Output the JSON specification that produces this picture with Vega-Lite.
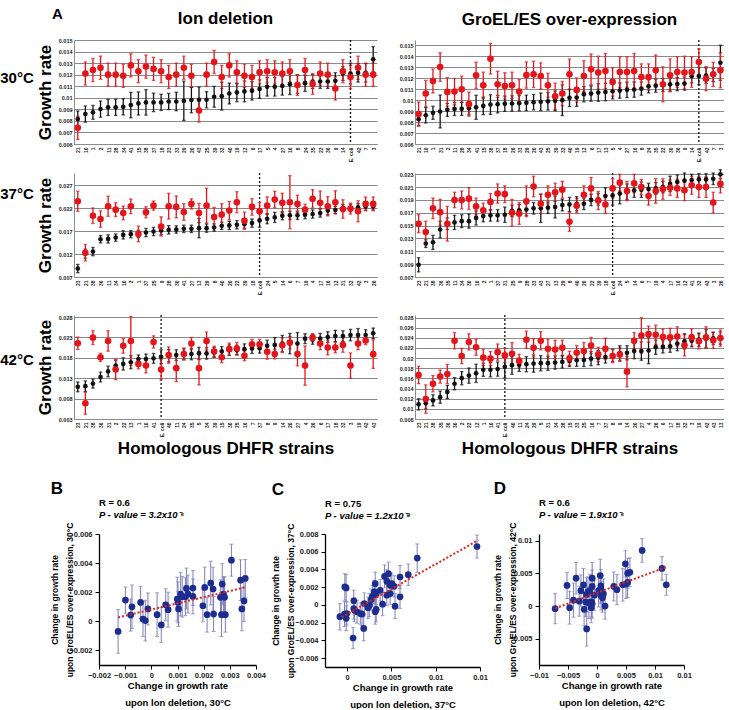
{
"$schema":"https://vega.github.io/schema/vega-lite/v6.json",
"padding":{"left":0,"top":7,"right":0,"bottom":0},
"title":{"text":"A","anchor":"start","frame":"bounds","fontSize":15,"offset":0,"dx":52,"dy":12},
"config":{
 "font":"Liberation Sans",
 "view":{"stroke":null},
 "title":{"fontWeight":"bold","color":"#000"},
 "axis":{"labelOverlap":false},
 "axisY":{"grid":true,"gridColor":"#8a8a8a","gridWidth":1.2,"ticks":false,"domainColor":"#8a8a8a","labelFontSize":5.5,"labelFontWeight":"bold","labelPadding":2,"format":"~g","titleFontSize":17,"titleFontWeight":"bold","titlePadding":4,"labelColor":"#222","titleColor":"#000","labelOverlap":false},
 "axisX":{"labelAngle":-90,"labelFontSize":5,"labelFontWeight":"bold","ticks":false,"labelPadding":3,"domainColor":"#8a8a8a","labelOverlap":false,"labelColor":"#222","titleFontSize":17,"titleFontWeight":"bold","titlePadding":4,"grid":false,"titleColor":"#000"}
},
"datasets":{
"p1":[
{"s":"21","k":"b","v":0.00816,"e":0.0007},{"s":"10","k":"b","v":0.00859,"e":0.0007},{"s":"1","k":"b","v":0.00874,"e":0.0006},{"s":"2","k":"b","v":0.00902,"e":0.0007},{"s":"11","k":"b","v":0.00917,"e":0.0007},{"s":"28","k":"b","v":0.00917,"e":0.0007},{"s":"34","k":"b","v":0.00922,"e":0.0007},{"s":"41","k":"b","v":0.00937,"e":0.0011},{"s":"15","k":"b","v":0.00951,"e":0.001},{"s":"38","k":"b","v":0.0096,"e":0.0011},{"s":"37","k":"b","v":0.0096,"e":0.0008},{"s":"18","k":"b","v":0.0096,"e":0.0007},{"s":"23","k":"b","v":0.00968,"e":0.0007},{"s":"33","k":"b","v":0.00968,"e":0.0008},{"s":"29","k":"b","v":0.00974,"e":0.0017},{"s":"20","k":"b","v":0.0098,"e":0.0011},{"s":"43","k":"b","v":0.00983,"e":0.0011},{"s":"25","k":"b","v":0.00983,"e":0.0007},{"s":"39","k":"b","v":0.01009,"e":0.0009},{"s":"32","k":"b","v":0.01014,"e":0.0012},{"s":"40","k":"b","v":0.01037,"e":0.0009},{"s":"19","k":"b","v":0.01046,"e":0.0008},{"s":"12","k":"b","v":0.01055,"e":0.0009},{"s":"6","k":"b","v":0.0106,"e":0.0008},{"s":"17","k":"b","v":0.01075,"e":0.0008},{"s":"5","k":"b","v":0.01095,"e":0.0008},{"s":"4","k":"b","v":0.01095,"e":0.0008},{"s":"27","k":"b","v":0.01103,"e":0.0008},{"s":"16","k":"b","v":0.01118,"e":0.0009},{"s":"8","k":"b","v":0.01118,"e":0.0008},{"s":"24","k":"b","v":0.01126,"e":0.0007},{"s":"35","k":"b","v":0.01141,"e":0.0006},{"s":"22","k":"b","v":0.01141,"e":0.0006},{"s":"36","k":"b","v":0.01141,"e":0.0006},{"s":"9","k":"b","v":0.01147,"e":0.0007},{"s":"14","k":"b","v":0.0121,"e":0.0006},{"s":"E. coli","k":"b","v":0.0121,"e":0.0009},{"s":"42","k":"b","v":0.01216,"e":0.0008},{"s":"7","k":"b","v":0.01216,"e":0.0008},{"s":"3","k":"b","v":0.01333,"e":0.0011},
{"s":"21","k":"r","v":0.0074,"e":0.001},{"s":"10","k":"r","v":0.0121,"e":0.001},{"s":"1","k":"r","v":0.0124,"e":0.001},{"s":"2","k":"r","v":0.0126,"e":0.001},{"s":"11","k":"r","v":0.012,"e":0.001},{"s":"28","k":"r","v":0.012,"e":0.001},{"s":"34","k":"r","v":0.0119,"e":0.001},{"s":"41","k":"r","v":0.0128,"e":0.001},{"s":"15","k":"r","v":0.0123,"e":0.001},{"s":"38","k":"r","v":0.0127,"e":0.001},{"s":"37","k":"r","v":0.0125,"e":0.001},{"s":"18","k":"r","v":0.0123,"e":0.001},{"s":"23","k":"r","v":0.0118,"e":0.001},{"s":"33","k":"r","v":0.012,"e":0.001},{"s":"29","k":"r","v":0.0126,"e":0.001},{"s":"20","k":"r","v":0.0119,"e":0.001},{"s":"43","k":"r","v":0.0089,"e":0.001},{"s":"25","k":"r","v":0.012,"e":0.001},{"s":"39","k":"r","v":0.0131,"e":0.001},{"s":"32","k":"r","v":0.0118,"e":0.001},{"s":"40","k":"r","v":0.0128,"e":0.001},{"s":"19","k":"r","v":0.0122,"e":0.001},{"s":"12","k":"r","v":0.0119,"e":0.001},{"s":"6","k":"r","v":0.0118,"e":0.001},{"s":"17","k":"r","v":0.0122,"e":0.001},{"s":"5","k":"r","v":0.0123,"e":0.001},{"s":"4","k":"r","v":0.0122,"e":0.001},{"s":"27","k":"r","v":0.0121,"e":0.001},{"s":"16","k":"r","v":0.0123,"e":0.001},{"s":"8","k":"r","v":0.0111,"e":0.0009},{"s":"24","k":"r","v":0.0124,"e":0.001},{"s":"35","k":"r","v":0.0112,"e":0.0009},{"s":"22","k":"r","v":0.0121,"e":0.001},{"s":"36","k":"r","v":0.012,"e":0.001},{"s":"9","k":"r","v":0.0108,"e":0.001},{"s":"14","k":"r","v":0.0123,"e":0.001},{"s":"E. coli","k":"r","v":0.0118,"e":0.001},{"s":"42","k":"r","v":0.0126,"e":0.001},{"s":"7","k":"r","v":0.012,"e":0.001},{"s":"3","k":"r","v":0.012,"e":0.001}
],
"p2":[
{"s":"21","k":"b","v":0.00827,"e":0.0006},{"s":"10","k":"b","v":0.00862,"e":0.0007},{"s":"1","k":"b","v":0.00885,"e":0.0006},{"s":"31","k":"b","v":0.00897,"e":0.0015},{"s":"2","k":"b","v":0.00912,"e":0.0006},{"s":"11","k":"b","v":0.0092,"e":0.0006},{"s":"28","k":"b","v":0.00921,"e":0.0006},{"s":"34","k":"b","v":0.00927,"e":0.0006},{"s":"41","k":"b","v":0.00935,"e":0.0011},{"s":"15","k":"b","v":0.00948,"e":0.0008},{"s":"38","k":"b","v":0.0096,"e":0.0009},{"s":"37","k":"b","v":0.00964,"e":0.0008},{"s":"18","k":"b","v":0.00968,"e":0.0007},{"s":"26","k":"b","v":0.0097,"e":0.0007},{"s":"33","k":"b","v":0.00973,"e":0.0007},{"s":"29","k":"b","v":0.00976,"e":0.0007},{"s":"20","k":"b","v":0.00982,"e":0.0007},{"s":"43","k":"b","v":0.00986,"e":0.0008},{"s":"25","k":"b","v":0.0099,"e":0.0008},{"s":"39","k":"b","v":0.00994,"e":0.0009},{"s":"32","k":"b","v":0.01,"e":0.0014},{"s":"40","k":"b","v":0.01022,"e":0.0008},{"s":"19","k":"b","v":0.01024,"e":0.0008},{"s":"12","k":"b","v":0.01055,"e":0.0007},{"s":"6","k":"b","v":0.01061,"e":0.0007},{"s":"17","k":"b","v":0.0107,"e":0.0008},{"s":"13","k":"b","v":0.01075,"e":0.0008},{"s":"5","k":"b","v":0.01082,"e":0.0007},{"s":"4","k":"b","v":0.01088,"e":0.0007},{"s":"27","k":"b","v":0.01095,"e":0.0007},{"s":"16","k":"b","v":0.01097,"e":0.0007},{"s":"8","k":"b","v":0.01106,"e":0.0006},{"s":"24","k":"b","v":0.01127,"e":0.0006},{"s":"35","k":"b","v":0.01133,"e":0.0006},{"s":"22","k":"b","v":0.01139,"e":0.0006},{"s":"30","k":"b","v":0.01145,"e":0.0006},{"s":"36","k":"b","v":0.01147,"e":0.0006},{"s":"9","k":"b","v":0.01152,"e":0.0006},{"s":"14","k":"b","v":0.01218,"e":0.0006},{"s":"E. coli","k":"b","v":0.01221,"e":0.0008},{"s":"42","k":"b","v":0.01225,"e":0.0007},{"s":"7","k":"b","v":0.0123,"e":0.0006},{"s":"3","k":"b","v":0.01342,"e":0.0016},
{"s":"21","k":"r","v":0.00873,"e":0.0011},{"s":"10","k":"r","v":0.01061,"e":0.0012},{"s":"1","k":"r","v":0.01176,"e":0.0011},{"s":"31","k":"r","v":0.01303,"e":0.0013},{"s":"2","k":"r","v":0.01076,"e":0.0013},{"s":"11","k":"r","v":0.01079,"e":0.0012},{"s":"28","k":"r","v":0.011,"e":0.0012},{"s":"34","k":"r","v":0.00964,"e":0.0011},{"s":"41","k":"r","v":0.01227,"e":0.0012},{"s":"15","k":"r","v":0.01136,"e":0.0012},{"s":"38","k":"r","v":0.01379,"e":0.0014},{"s":"37","k":"r","v":0.01145,"e":0.0012},{"s":"18","k":"r","v":0.0113,"e":0.0012},{"s":"26","k":"r","v":0.01136,"e":0.0012},{"s":"33","k":"r","v":0.01079,"e":0.0011},{"s":"29","k":"r","v":0.0123,"e":0.0012},{"s":"20","k":"r","v":0.01236,"e":0.0012},{"s":"43","k":"r","v":0.01221,"e":0.0012},{"s":"25","k":"r","v":0.01136,"e":0.0011},{"s":"39","k":"r","v":0.01036,"e":0.0012},{"s":"32","k":"r","v":0.01061,"e":0.0011},{"s":"40","k":"r","v":0.01236,"e":0.0014},{"s":"19","k":"r","v":0.01094,"e":0.0011},{"s":"12","k":"r","v":0.01221,"e":0.0014},{"s":"6","k":"r","v":0.01282,"e":0.0014},{"s":"17","k":"r","v":0.01252,"e":0.0015},{"s":"13","k":"r","v":0.01267,"e":0.0016},{"s":"5","k":"r","v":0.01167,"e":0.0013},{"s":"4","k":"r","v":0.01258,"e":0.0014},{"s":"27","k":"r","v":0.01258,"e":0.0014},{"s":"16","k":"r","v":0.01267,"e":0.0016},{"s":"8","k":"r","v":0.01212,"e":0.0012},{"s":"24","k":"r","v":0.01212,"e":0.0012},{"s":"35","k":"r","v":0.01273,"e":0.0014},{"s":"22","k":"r","v":0.01145,"e":0.0016},{"s":"30","k":"r","v":0.01227,"e":0.0015},{"s":"36","k":"r","v":0.01258,"e":0.0014},{"s":"9","k":"r","v":0.01252,"e":0.0015},{"s":"14","k":"r","v":0.01258,"e":0.0014},{"s":"E. coli","k":"r","v":0.01348,"e":0.0012},{"s":"42","k":"r","v":0.01197,"e":0.0011},{"s":"7","k":"r","v":0.01236,"e":0.0011},{"s":"3","k":"r","v":0.01273,"e":0.0016}
],
"p3":[
{"s":"23","k":"b","v":0.00884,"e":0.0009},{"s":"21","k":"b","v":0.0121,"e":0.001},{"s":"38","k":"b","v":0.01255,"e":0.0009},{"s":"36","k":"b","v":0.01524,"e":0.0008},{"s":"11","k":"b","v":0.01531,"e":0.0009},{"s":"34","k":"b","v":0.0156,"e":0.0008},{"s":"10","k":"b","v":0.01619,"e":0.0009},{"s":"2","k":"b","v":0.01634,"e":0.0008},{"s":"1","k":"b","v":0.0164,"e":0.0008},{"s":"37","k":"b","v":0.01671,"e":0.0009},{"s":"25","k":"b","v":0.01693,"e":0.0009},{"s":"9","k":"b","v":0.01715,"e":0.0009},{"s":"28","k":"b","v":0.0173,"e":0.0009},{"s":"30","k":"b","v":0.01737,"e":0.0008},{"s":"41","k":"b","v":0.01751,"e":0.0008},{"s":"27","k":"b","v":0.01751,"e":0.0008},{"s":"13","k":"b","v":0.01766,"e":0.0021},{"s":"29","k":"b","v":0.01766,"e":0.0009},{"s":"8","k":"b","v":0.0178,"e":0.0008},{"s":"40","k":"b","v":0.01818,"e":0.0008},{"s":"20","k":"b","v":0.01825,"e":0.0009},{"s":"22","k":"b","v":0.0184,"e":0.0009},{"s":"39","k":"b","v":0.01854,"e":0.0009},{"s":"18","k":"b","v":0.01876,"e":0.0009},{"s":"E. coli","k":"b","v":0.01935,"e":0.0015},{"s":"24","k":"b","v":0.01972,"e":0.0011},{"s":"5","k":"b","v":0.02001,"e":0.0011},{"s":"14","k":"b","v":0.02038,"e":0.0009},{"s":"6","k":"b","v":0.02046,"e":0.0009},{"s":"7","k":"b","v":0.02046,"e":0.0009},{"s":"19","k":"b","v":0.0206,"e":0.0009},{"s":"4","k":"b","v":0.02075,"e":0.0009},{"s":"17","k":"b","v":0.02097,"e":0.0009},{"s":"16","k":"b","v":0.02149,"e":0.0009},{"s":"12","k":"b","v":0.02163,"e":0.0008},{"s":"31","k":"b","v":0.02207,"e":0.0008},{"s":"32","k":"b","v":0.02207,"e":0.0008},{"s":"42","k":"b","v":0.02222,"e":0.0008},{"s":"3","k":"b","v":0.02237,"e":0.0008},{"s":"26","k":"b","v":0.0224,"e":0.0008},
{"s":"23","k":"r","v":0.02354,"e":0.0022},{"s":"21","k":"r","v":0.01229,"e":0.0018},{"s":"38","k":"r","v":0.02038,"e":0.0017},{"s":"36","k":"r","v":0.01965,"e":0.0018},{"s":"11","k":"r","v":0.02244,"e":0.0022},{"s":"34","k":"r","v":0.0217,"e":0.0015},{"s":"10","k":"r","v":0.02097,"e":0.0015},{"s":"2","k":"r","v":0.02244,"e":0.0016},{"s":"1","k":"r","v":0.01641,"e":0.0017},{"s":"37","k":"r","v":0.02112,"e":0.0012},{"s":"25","k":"r","v":0.02259,"e":0.001},{"s":"9","k":"r","v":0.01803,"e":0.0021},{"s":"28","k":"r","v":0.02244,"e":0.0028},{"s":"30","k":"r","v":0.0223,"e":0.0024},{"s":"41","k":"r","v":0.02119,"e":0.0018},{"s":"27","k":"r","v":0.02296,"e":0.0011},{"s":"13","k":"r","v":0.02097,"e":0.0021},{"s":"29","k":"r","v":0.02259,"e":0.0038},{"s":"8","k":"r","v":0.02009,"e":0.0021},{"s":"40","k":"r","v":0.0206,"e":0.0024},{"s":"20","k":"r","v":0.02149,"e":0.002},{"s":"22","k":"r","v":0.02332,"e":0.0023},{"s":"39","k":"r","v":0.01928,"e":0.0019},{"s":"18","k":"r","v":0.0223,"e":0.0018},{"s":"E. coli","k":"r","v":0.02134,"e":0.0019},{"s":"24","k":"r","v":0.02259,"e":0.0019},{"s":"5","k":"r","v":0.02391,"e":0.0018},{"s":"14","k":"r","v":0.02318,"e":0.0021},{"s":"6","k":"r","v":0.02332,"e":0.0058},{"s":"7","k":"r","v":0.02296,"e":0.0019},{"s":"19","k":"r","v":0.0217,"e":0.0012},{"s":"4","k":"r","v":0.02406,"e":0.002},{"s":"17","k":"r","v":0.02318,"e":0.0026},{"s":"16","k":"r","v":0.02244,"e":0.0021},{"s":"12","k":"r","v":0.02332,"e":0.0025},{"s":"31","k":"r","v":0.02185,"e":0.002},{"s":"32","k":"r","v":0.02193,"e":0.0012},{"s":"42","k":"r","v":0.02134,"e":0.0023},{"s":"3","k":"r","v":0.02296,"e":0.0015},{"s":"26","k":"r","v":0.02296,"e":0.0015}
],
"p4":[
{"s":"23","k":"b","v":0.0089,"e":0.0011},{"s":"21","k":"b","v":0.0122,"e":0.0006},{"s":"38","k":"b","v":0.0124,"e":0.0011},{"s":"36","k":"b","v":0.0144,"e":0.0013},{"s":"35","k":"b","v":0.0153,"e":0.0009},{"s":"11","k":"b","v":0.0155,"e":0.0011},{"s":"34","k":"b","v":0.0157,"e":0.001},{"s":"30","k":"b","v":0.0157,"e":0.0011},{"s":"10","k":"b","v":0.0162,"e":0.0011},{"s":"2","k":"b","v":0.0165,"e":0.0009},{"s":"1","k":"b","v":0.0166,"e":0.0009},{"s":"37","k":"b","v":0.0166,"e":0.0009},{"s":"31","k":"b","v":0.0167,"e":0.0012},{"s":"25","k":"b","v":0.0173,"e":0.0009},{"s":"9","k":"b","v":0.0174,"e":0.0009},{"s":"28","k":"b","v":0.0175,"e":0.0009},{"s":"33","k":"b","v":0.0177,"e":0.0009},{"s":"43","k":"b","v":0.0177,"e":0.0022},{"s":"27","k":"b","v":0.0178,"e":0.0009},{"s":"13","k":"b","v":0.0179,"e":0.0017},{"s":"29","k":"b","v":0.0182,"e":0.0009},{"s":"8","k":"b","v":0.0183,"e":0.0011},{"s":"40","k":"b","v":0.0184,"e":0.0011},{"s":"20","k":"b","v":0.0184,"e":0.0009},{"s":"22","k":"b","v":0.019,"e":0.0009},{"s":"39","k":"b","v":0.0191,"e":0.0009},{"s":"18","k":"b","v":0.0196,"e":0.0013},{"s":"E. coli","k":"b","v":0.0197,"e":0.0015},{"s":"24","k":"b","v":0.02,"e":0.0016},{"s":"5","k":"b","v":0.0203,"e":0.0012},{"s":"14","k":"b","v":0.0205,"e":0.0011},{"s":"6","k":"b","v":0.0206,"e":0.0012},{"s":"7","k":"b","v":0.0207,"e":0.0009},{"s":"19","k":"b","v":0.0208,"e":0.0009},{"s":"4","k":"b","v":0.021,"e":0.0009},{"s":"17","k":"b","v":0.0215,"e":0.0012},{"s":"16","k":"b","v":0.0218,"e":0.0011},{"s":"12","k":"b","v":0.022,"e":0.0012},{"s":"41","k":"b","v":0.0221,"e":0.0009},{"s":"32","k":"b","v":0.0222,"e":0.0009},{"s":"42","k":"b","v":0.0222,"e":0.0009},{"s":"3","k":"b","v":0.0223,"e":0.0009},{"s":"26","k":"b","v":0.023,"e":0.0007},
{"s":"23","k":"r","v":0.0153,"e":0.0014},{"s":"21","k":"r","v":0.014,"e":0.0017},{"s":"38","k":"r","v":0.0177,"e":0.0016},{"s":"36","k":"r","v":0.0171,"e":0.002},{"s":"35","k":"r","v":0.0153,"e":0.0027},{"s":"11","k":"r","v":0.019,"e":0.0012},{"s":"34","k":"r","v":0.019,"e":0.0014},{"s":"30","k":"r","v":0.0192,"e":0.0017},{"s":"10","k":"r","v":0.018,"e":0.0013},{"s":"2","k":"r","v":0.0174,"e":0.0011},{"s":"1","k":"r","v":0.0187,"e":0.0013},{"s":"37","k":"r","v":0.02,"e":0.0015},{"s":"31","k":"r","v":0.0199,"e":0.0013},{"s":"25","k":"r","v":0.017,"e":0.0021},{"s":"9","k":"r","v":0.0169,"e":0.0017},{"s":"28","k":"r","v":0.0188,"e":0.0024},{"s":"33","k":"r","v":0.0211,"e":0.0016},{"s":"43","k":"r","v":0.0184,"e":0.0015},{"s":"27","k":"r","v":0.0198,"e":0.0014},{"s":"13","k":"r","v":0.0202,"e":0.0014},{"s":"29","k":"r","v":0.0206,"e":0.0013},{"s":"8","k":"r","v":0.0156,"e":0.0015},{"s":"40","k":"r","v":0.0181,"e":0.0011},{"s":"20","k":"r","v":0.0198,"e":0.0014},{"s":"22","k":"r","v":0.0208,"e":0.0017},{"s":"39","k":"r","v":0.0189,"e":0.0014},{"s":"18","k":"r","v":0.0183,"e":0.0014},{"s":"E. coli","k":"r","v":0.0208,"e":0.0015},{"s":"24","k":"r","v":0.0217,"e":0.0013},{"s":"5","k":"r","v":0.0204,"e":0.0015},{"s":"14","k":"r","v":0.0216,"e":0.0014},{"s":"6","k":"r","v":0.021,"e":0.0012},{"s":"7","k":"r","v":0.0196,"e":0.0014},{"s":"19","k":"r","v":0.0204,"e":0.0019},{"s":"4","k":"r","v":0.0207,"e":0.0016},{"s":"17","k":"r","v":0.0209,"e":0.0012},{"s":"16","k":"r","v":0.0208,"e":0.0014},{"s":"12","k":"r","v":0.0205,"e":0.0016},{"s":"41","k":"r","v":0.0213,"e":0.0014},{"s":"32","k":"r","v":0.021,"e":0.0016},{"s":"42","k":"r","v":0.021,"e":0.0016},{"s":"3","k":"r","v":0.0186,"e":0.0016},{"s":"26","k":"r","v":0.0215,"e":0.0014}
],
"p5":[
{"s":"23","k":"b","v":0.01088,"e":0.0012},{"s":"21","k":"b","v":0.01104,"e":0.0013},{"s":"38","k":"b","v":0.01168,"e":0.0011},{"s":"36","k":"b","v":0.01329,"e":0.0012},{"s":"31","k":"b","v":0.01466,"e":0.0013},{"s":"2","k":"b","v":0.0161,"e":0.0013},{"s":"22","k":"b","v":0.0165,"e":0.0015},{"s":"13","k":"b","v":0.01691,"e":0.0016},{"s":"1","k":"b","v":0.01771,"e":0.001},{"s":"10","k":"b","v":0.01771,"e":0.0012},{"s":"41","k":"b","v":0.01787,"e":0.0012},{"s":"E. coli","k":"b","v":0.01827,"e":0.0017},{"s":"40","k":"b","v":0.01851,"e":0.0015},{"s":"11","k":"b","v":0.01868,"e":0.0013},{"s":"24","k":"b","v":0.01892,"e":0.0013},{"s":"35","k":"b","v":0.01892,"e":0.0014},{"s":"5","k":"b","v":0.01908,"e":0.0015},{"s":"34","k":"b","v":0.01908,"e":0.0014},{"s":"39","k":"b","v":0.01932,"e":0.0012},{"s":"15","k":"b","v":0.01956,"e":0.0012},{"s":"30","k":"b","v":0.01988,"e":0.0013},{"s":"25","k":"b","v":0.01988,"e":0.0012},{"s":"16","k":"b","v":0.02012,"e":0.0013},{"s":"7","k":"b","v":0.02028,"e":0.0012},{"s":"37","k":"b","v":0.02036,"e":0.0012},{"s":"8","k":"b","v":0.02093,"e":0.0014},{"s":"9","k":"b","v":0.02117,"e":0.0018},{"s":"14","k":"b","v":0.02149,"e":0.002},{"s":"20","k":"b","v":0.02149,"e":0.0025},{"s":"27","k":"b","v":0.02149,"e":0.0027},{"s":"4","k":"b","v":0.02269,"e":0.0012},{"s":"26","k":"b","v":0.02253,"e":0.0012},{"s":"6","k":"b","v":0.02269,"e":0.0013},{"s":"17","k":"b","v":0.0231,"e":0.0013},{"s":"18","k":"b","v":0.02334,"e":0.0014},{"s":"32","k":"b","v":0.02334,"e":0.0013},{"s":"3","k":"b","v":0.02358,"e":0.0014},{"s":"19","k":"b","v":0.02358,"e":0.0016},{"s":"42","k":"b","v":0.02358,"e":0.0013},{"s":"43","k":"b","v":0.024,"e":0.0013},
{"s":"23","k":"r","v":0.02157,"e":0.0015},{"s":"21","k":"r","v":0.00686,"e":0.0027},{"s":"38","k":"r","v":0.02294,"e":0.0017},{"s":"36","k":"r","v":0.01811,"e":0.001},{"s":"31","k":"r","v":0.02213,"e":0.0025},{"s":"2","k":"r","v":0.01514,"e":0.0025},{"s":"22","k":"r","v":0.02093,"e":0.0018},{"s":"13","k":"r","v":0.02213,"e":0.006},{"s":"1","k":"r","v":0.0165,"e":0.0012},{"s":"10","k":"r","v":0.0161,"e":0.0018},{"s":"41","k":"r","v":0.02189,"e":0.0015},{"s":"E. coli","k":"r","v":0.01514,"e":0.0025},{"s":"40","k":"r","v":0.01868,"e":0.002},{"s":"11","k":"r","v":0.01546,"e":0.0033},{"s":"24","k":"r","v":0.01892,"e":0.0015},{"s":"35","k":"r","v":0.02149,"e":0.0015},{"s":"5","k":"r","v":0.01546,"e":0.0041},{"s":"34","k":"r","v":0.02213,"e":0.0022},{"s":"39","k":"r","v":0.01956,"e":0.0013},{"s":"15","k":"r","v":0.01811,"e":0.0013},{"s":"30","k":"r","v":0.02012,"e":0.0015},{"s":"25","k":"r","v":0.02028,"e":0.0015},{"s":"16","k":"r","v":0.01851,"e":0.0012},{"s":"7","k":"r","v":0.02133,"e":0.0012},{"s":"37","k":"r","v":0.02133,"e":0.0012},{"s":"8","k":"r","v":0.01948,"e":0.0018},{"s":"9","k":"r","v":0.01892,"e":0.0012},{"s":"14","k":"r","v":0.02109,"e":0.0018},{"s":"20","k":"r","v":0.02173,"e":0.0015},{"s":"27","k":"r","v":0.01892,"e":0.0029},{"s":"4","k":"r","v":0.0161,"e":0.0048},{"s":"26","k":"r","v":0.02294,"e":0.001},{"s":"6","k":"r","v":0.02149,"e":0.0015},{"s":"17","k":"r","v":0.02052,"e":0.0018},{"s":"18","k":"r","v":0.02052,"e":0.0013},{"s":"32","k":"r","v":0.02117,"e":0.0018},{"s":"3","k":"r","v":0.0161,"e":0.0031},{"s":"19","k":"r","v":0.02149,"e":0.0015},{"s":"42","k":"r","v":0.02224,"e":0.001},{"s":"43","k":"r","v":0.0189,"e":0.0035}
],
"p6":[
{"s":"23","k":"b","v":0.01089,"e":0.0011},{"s":"21","k":"b","v":0.01109,"e":0.0011},{"s":"38","k":"b","v":0.01167,"e":0.0011},{"s":"35","k":"b","v":0.01231,"e":0.0012},{"s":"36","k":"b","v":0.01334,"e":0.0013},{"s":"30","k":"b","v":0.01495,"e":0.0012},{"s":"2","k":"b","v":0.01604,"e":0.0013},{"s":"22","k":"b","v":0.01655,"e":0.0015},{"s":"12","k":"b","v":0.017,"e":0.0018},{"s":"1","k":"b","v":0.01771,"e":0.0013},{"s":"10","k":"b","v":0.01771,"e":0.0014},{"s":"41","k":"b","v":0.01784,"e":0.0014},{"s":"E. coli","k":"b","v":0.01829,"e":0.0022},{"s":"40","k":"b","v":0.01861,"e":0.0018},{"s":"11","k":"b","v":0.01868,"e":0.0013},{"s":"24","k":"b","v":0.0188,"e":0.0015},{"s":"29","k":"b","v":0.01893,"e":0.0017},{"s":"5","k":"b","v":0.019,"e":0.0015},{"s":"31","k":"b","v":0.019,"e":0.0014},{"s":"34","k":"b","v":0.01913,"e":0.0013},{"s":"28","k":"b","v":0.01925,"e":0.0012},{"s":"15","k":"b","v":0.01945,"e":0.0011},{"s":"33","k":"b","v":0.01958,"e":0.0012},{"s":"25","k":"b","v":0.01964,"e":0.0013},{"s":"16","k":"b","v":0.0199,"e":0.0014},{"s":"7","k":"b","v":0.02009,"e":0.0014},{"s":"37","k":"b","v":0.02022,"e":0.0012},{"s":"8","k":"b","v":0.02054,"e":0.0012},{"s":"9","k":"b","v":0.02093,"e":0.0015},{"s":"14","k":"b","v":0.02105,"e":0.0014},{"s":"20","k":"b","v":0.02138,"e":0.0015},{"s":"27","k":"b","v":0.02138,"e":0.0018},{"s":"4","k":"b","v":0.0215,"e":0.0026},{"s":"26","k":"b","v":0.02215,"e":0.0014},{"s":"6","k":"b","v":0.02221,"e":0.0012},{"s":"17","k":"b","v":0.02234,"e":0.0012},{"s":"18","k":"b","v":0.02286,"e":0.0014},{"s":"32","k":"b","v":0.02331,"e":0.0015},{"s":"3","k":"b","v":0.02343,"e":0.0012},{"s":"19","k":"b","v":0.02363,"e":0.0013},{"s":"42","k":"b","v":0.02382,"e":0.0018},{"s":"43","k":"b","v":0.0239,"e":0.0012},{"s":"13","k":"b","v":0.02395,"e":0.0012},
{"s":"23","k":"r","v":0.01668,"e":0.0017},{"s":"21","k":"r","v":0.01192,"e":0.0028},{"s":"38","k":"r","v":0.01495,"e":0.0016},{"s":"35","k":"r","v":0.01636,"e":0.0013},{"s":"36","k":"r","v":0.01687,"e":0.0019},{"s":"30","k":"r","v":0.02343,"e":0.0016},{"s":"2","k":"r","v":0.02041,"e":0.0015},{"s":"22","k":"r","v":0.02318,"e":0.0016},{"s":"12","k":"r","v":0.02215,"e":0.0016},{"s":"1","k":"r","v":0.02009,"e":0.0016},{"s":"10","k":"r","v":0.0199,"e":0.0014},{"s":"41","k":"r","v":0.02118,"e":0.0016},{"s":"E. coli","k":"r","v":0.02054,"e":0.0014},{"s":"40","k":"r","v":0.02086,"e":0.0022},{"s":"11","k":"r","v":0.01945,"e":0.0013},{"s":"24","k":"r","v":0.02363,"e":0.0017},{"s":"29","k":"r","v":0.02202,"e":0.0018},{"s":"5","k":"r","v":0.02343,"e":0.0018},{"s":"31","k":"r","v":0.02183,"e":0.0019},{"s":"34","k":"r","v":0.0217,"e":0.0018},{"s":"28","k":"r","v":0.02202,"e":0.0015},{"s":"15","k":"r","v":0.01996,"e":0.0014},{"s":"33","k":"r","v":0.02105,"e":0.0014},{"s":"25","k":"r","v":0.02138,"e":0.0017},{"s":"16","k":"r","v":0.02247,"e":0.0016},{"s":"7","k":"r","v":0.02073,"e":0.0014},{"s":"37","k":"r","v":0.02183,"e":0.0021},{"s":"8","k":"r","v":0.02041,"e":0.0013},{"s":"9","k":"r","v":0.02073,"e":0.0013},{"s":"14","k":"r","v":0.01733,"e":0.003},{"s":"20","k":"r","v":0.02343,"e":0.0016},{"s":"27","k":"r","v":0.02446,"e":0.0035},{"s":"4","k":"r","v":0.02472,"e":0.0016},{"s":"26","k":"r","v":0.02459,"e":0.0019},{"s":"6","k":"r","v":0.02414,"e":0.0016},{"s":"17","k":"r","v":0.02408,"e":0.0018},{"s":"18","k":"r","v":0.02427,"e":0.0019},{"s":"32","k":"r","v":0.02253,"e":0.0021},{"s":"3","k":"r","v":0.02408,"e":0.0017},{"s":"19","k":"r","v":0.02331,"e":0.0015},{"s":"42","k":"r","v":0.02408,"e":0.0021},{"s":"43","k":"r","v":0.0235,"e":0.0016},{"s":"13","k":"r","v":0.02395,"e":0.0016}
],
"sb":[
{"x":-0.00127,"y":-0.00069,"e":0.0015},{"x":-0.00099,"y":0.00146,"e":0.0009},{"x":-0.00079,"y":0.00043,"e":0.0011},{"x":-0.00074,"y":0.001,"e":0.0015},{"x":-0.00041,"y":0.0013,"e":0.0011},{"x":-0.00032,"y":0.00016,"e":0.0012},{"x":-0.00023,"y":0.00005,"e":0.0014},{"x":-0.00013,"y":0.00085,"e":0.0011},{"x":0.00022,"y":0.00046,"e":0.0015},{"x":0.00038,"y":-0.00025,"e":0.0012},{"x":0.00055,"y":0.00114,"e":0.0011},{"x":0.00064,"y":0.0008,"e":0.0012},{"x":0.00099,"y":0.00153,"e":0.0015},{"x":0.00102,"y":0.0013,"e":0.0014},{"x":0.00104,"y":0.00085,"e":0.0012},{"x":0.00112,"y":0.00187,"e":0.0015},{"x":0.00118,"y":0.00169,"e":0.0014},{"x":0.0013,"y":0.00169,"e":0.0013},{"x":0.00134,"y":0.00226,"e":0.0014},{"x":0.0014,"y":0.00187,"e":0.0013},{"x":0.00159,"y":0.00229,"e":0.0012},{"x":0.00159,"y":0.00171,"e":0.0012},{"x":0.00197,"y":0.00107,"e":0.0011},{"x":0.00204,"y":0.00233,"e":0.0014},{"x":0.00213,"y":0.00046,"e":0.0012},{"x":0.00227,"y":0.00263,"e":0.0015},{"x":0.00236,"y":0.00222,"e":0.0015},{"x":0.00238,"y":0.0005,"e":0.0012},{"x":0.00264,"y":0.00165,"e":0.0012},{"x":0.00268,"y":0.00046,"e":0.0015},{"x":0.00271,"y":0.00256,"e":0.0014},{"x":0.00276,"y":0.00187,"e":0.0012},{"x":0.0028,"y":0.00165,"e":0.0014},{"x":0.00283,"y":0.00046,"e":0.0012},{"x":0.00306,"y":0.0042,"e":0.0011},{"x":0.00341,"y":0.00283,"e":0.0014},{"x":0.00346,"y":0.00085,"e":0.0015},{"x":0.00354,"y":0.0014,"e":0.0014},{"x":0.00359,"y":0.00295,"e":0.0013}
],
"lb":[{"x":-0.00127,"y":0.00027},{"x":0.00357,"y":0.00233}],
"sc":[
{"x":-0.00082,"y":-0.00133,"e":0.0015},{"x":-0.0003,"y":-0.00103,"e":0.0014},{"x":-0.00026,"y":0.00203,"e":0.0015},{"x":-0.00011,"y":0.00192,"e":0.0015},{"x":-0.00011,"y":-0.00151,"e":0.0014},{"x":-0.00004,"y":-0.00097,"e":0.0013},{"x":0.00075,"y":0.00047,"e":0.0012},{"x":0.00082,"y":-0.00058,"e":0.0013},{"x":0.00075,"y":-0.0004,"e":0.0012},{"x":0.00067,"y":-0.00373,"e":0.0012},{"x":0.00112,"y":-0.00077,"e":0.0013},{"x":0.00149,"y":-0.00097,"e":0.0012},{"x":0.00168,"y":-0.00103,"e":0.0013},{"x":0.00187,"y":-0.00265,"e":0.0014},{"x":0.00194,"y":0.00016,"e":0.0012},{"x":0.00235,"y":-0.00032,"e":0.0012},{"x":0.0025,"y":-0.00003,"e":0.0013},{"x":0.00272,"y":0.0006,"e":0.0012},{"x":0.00287,"y":0.00098,"e":0.0012},{"x":0.00306,"y":0.00147,"e":0.0013},{"x":0.00317,"y":0.0024,"e":0.0013},{"x":0.00325,"y":0.00121,"e":0.0012},{"x":0.00317,"y":-0.00077,"e":0.0014},{"x":0.00328,"y":-0.00051,"e":0.0014},{"x":0.00373,"y":0.00165,"e":0.0012},{"x":0.004,"y":0.00009,"e":0.0013},{"x":0.00422,"y":0.00322,"e":0.0013},{"x":0.00448,"y":0.00266,"e":0.0013},{"x":0.00448,"y":0.0011,"e":0.0012},{"x":0.00466,"y":0.00352,"e":0.0013},{"x":0.00485,"y":0.00221,"e":0.0012},{"x":0.00485,"y":0.00128,"e":0.0012},{"x":0.00504,"y":0.0024,"e":0.0012},{"x":0.0053,"y":0.0021,"e":0.0012},{"x":0.00541,"y":-0.00014,"e":0.0014},{"x":0.00597,"y":0.00315,"e":0.0013},{"x":0.00597,"y":0.00091,"e":0.0013},{"x":0.0069,"y":0.00341,"e":0.0012},{"x":0.00791,"y":0.00528,"e":0.0016},{"x":0.01466,"y":0.00659,"e":0.0013}
],
"lc":[{"x":-0.0006,"y":-0.00136},{"x":0.0148,"y":0.0073}],
"sd":[
{"x":-0.00722,"y":-0.0004,"e":0.0023},{"x":-0.00517,"y":0.00315,"e":0.002},{"x":-0.00472,"y":-0.00025,"e":0.0025},{"x":-0.00406,"y":0.0009,"e":0.0026},{"x":-0.00361,"y":0.00425,"e":0.0024},{"x":-0.00306,"y":0.00075,"e":0.0023},{"x":-0.00278,"y":0.00235,"e":0.0024},{"x":-0.00233,"y":0.00325,"e":0.0025},{"x":-0.00222,"y":-0.0005,"e":0.0025},{"x":-0.00194,"y":0.0006,"e":0.0022},{"x":-0.00183,"y":0.00175,"e":0.0026},{"x":-0.00178,"y":-0.0035,"e":0.0026},{"x":-0.00156,"y":0.00215,"e":0.0023},{"x":-0.00139,"y":0.0005,"e":0.0024},{"x":-0.00122,"y":0.00235,"e":0.0025},{"x":-0.001,"y":-0.00025,"e":0.0023},{"x":-0.00083,"y":0.00425,"e":0.0024},{"x":-0.00094,"y":0.00065,"e":0.0023},{"x":-0.00083,"y":0.003,"e":0.0025},{"x":-0.00083,"y":0.00035,"e":0.0022},{"x":-0.00044,"y":0.00165,"e":0.0023},{"x":0.00028,"y":0.00235,"e":0.0025},{"x":0.00056,"y":0.00465,"e":0.0025},{"x":0.00067,"y":0.0031,"e":0.0025},{"x":0.00067,"y":0.00265,"e":0.0023},{"x":0.00072,"y":0.0016,"e":0.0022},{"x":0.00094,"y":0.00125,"e":0.0022},{"x":0.00111,"y":0.00185,"e":0.0023},{"x":0.00139,"y":0.0,"e":0.002},{"x":0.00289,"y":0.003,"e":0.0022},{"x":0.00344,"y":0.0025,"e":0.0023},{"x":0.00444,"y":0.00325,"e":0.0025},{"x":0.00489,"y":0.00645,"e":0.002},{"x":0.005,"y":0.00335,"e":0.0022},{"x":0.00528,"y":0.0036,"e":0.0023},{"x":0.00528,"y":0.005,"e":0.0023},{"x":0.00567,"y":0.00515,"e":0.0022},{"x":0.00778,"y":0.0085,"e":0.0018},{"x":0.0112,"y":0.00575,"e":0.0018},{"x":0.01194,"y":0.00325,"e":0.0016}
],
"ld":[{"x":-0.0072,"y":-0.00035},{"x":0.0121,"y":0.006}]
},
"spacing":23,
"vconcat":[
{"spacing":7,"vconcat":[
 {"spacing":2,"hconcat":[
  {"width":34,"height":104,"data":{"values":[{"t":"30°C"}]},"mark":{"type":"text","fontSize":15,"fontWeight":"bold","color":"#000","dy":-14},"encoding":{"x":{"field":"t","type":"nominal","axis":null},"y":{"field":"t","type":"nominal","axis":null},"text":{"field":"t","type":"nominal"}}},
  {"spacing":22,
  "hconcat":[
   {"width":303,"height":104,"title":{"text":"lon deletion","fontSize":17,"offset":10},
    "data":{"name":"p1"},
    "encoding":{"x":{"field":"s","type":"nominal","sort":null,"scale":{"type":"point","padding":0.5},"axis":{"title":null}},
                "color":{"field":"k","type":"nominal","scale":{"domain":["b","r"],"range":["#111111","#e3151a"]},"legend":null}},
    "layer":[
     {"mark":{"type":"rule","strokeDash":[2,2],"strokeWidth":1.3},"encoding":{"color":{"value":"#111111"},"opacity":{"condition":{"test":"datum.s === 'E. coli' && datum.k === 'b'","value":1},"value":0}}},
     {"mark":{"type":"errorbar","ticks":{"size":3.5},"thickness":1.3},"encoding":{"y":{"field":"v","type":"quantitative","scale":{"domain":[0.006,0.015],"nice":false,"zero":false},"axis":{"title":"Growth rate","values":[0.006,0.007,0.008,0.009,0.01,0.011,0.012,0.013,0.014,0.015]}},"yError":{"field":"e"}}},
     {"mark":{"type":"circle","opacity":1},"encoding":{"y":{"field":"v","type":"quantitative","scale":{"domain":[0.006,0.015],"nice":false,"zero":false},"axis":{"title":"Growth rate","values":[0.006,0.007,0.008,0.009,0.01,0.011,0.012,0.013,0.014,0.015]}},"size":{"field":"k","type":"ordinal","scale":{"domain":["b","r"],"range":[22,44]},"legend":null}}}
    ]},
   {"width":309,"height":104,"title":{"text":"GroEL/ES over-expression","fontSize":17,"offset":10},
    "data":{"name":"p2"},
    "encoding":{"x":{"field":"s","type":"nominal","sort":null,"scale":{"type":"point","padding":0.5},"axis":{"title":null}},
                "color":{"field":"k","type":"nominal","scale":{"domain":["b","r"],"range":["#111111","#e3151a"]},"legend":null}},
    "layer":[
     {"mark":{"type":"rule","strokeDash":[2,2],"strokeWidth":1.3},"encoding":{"color":{"value":"#111111"},"opacity":{"condition":{"test":"datum.s === 'E. coli' && datum.k === 'b'","value":1},"value":0}}},
     {"mark":{"type":"errorbar","ticks":{"size":3.5},"thickness":1.3},"encoding":{"y":{"field":"v","type":"quantitative","scale":{"domain":[0.006,0.0155],"nice":false,"zero":false},"axis":{"title":null,"values":[0.006,0.007,0.008,0.009,0.01,0.011,0.012,0.013,0.014,0.015]}},"yError":{"field":"e"}}},
     {"mark":{"type":"circle","opacity":1},"encoding":{"y":{"field":"v","type":"quantitative","scale":{"domain":[0.006,0.0155],"nice":false,"zero":false},"axis":{"title":null,"values":[0.006,0.007,0.008,0.009,0.01,0.011,0.012,0.013,0.014,0.015]}},"size":{"field":"k","type":"ordinal","scale":{"domain":["b","r"],"range":[22,44]},"legend":null}}}
    ]}
  ]}
 ]},
 {"spacing":19,"vconcat":[
 {"spacing":2,"hconcat":[
  {"width":34,"height":104,"data":{"values":[{"t":"37°C"}]},"mark":{"type":"text","fontSize":15,"fontWeight":"bold","color":"#000","dy":-31},"encoding":{"x":{"field":"t","type":"nominal","axis":null},"y":{"field":"t","type":"nominal","axis":null},"text":{"field":"t","type":"nominal"}}},
  {"spacing":22,
  "hconcat":[
   {"width":303,"height":104,
    "data":{"name":"p3"},
    "encoding":{"x":{"field":"s","type":"nominal","sort":null,"scale":{"type":"point","padding":0.5},"axis":{"title":null}},
                "color":{"field":"k","type":"nominal","scale":{"domain":["b","r"],"range":["#111111","#e3151a"]},"legend":null}},
    "layer":[
     {"mark":{"type":"rule","strokeDash":[2,2],"strokeWidth":1.3},"encoding":{"color":{"value":"#111111"},"opacity":{"condition":{"test":"datum.s === 'E. coli' && datum.k === 'b'","value":1},"value":0}}},
     {"mark":{"type":"errorbar","ticks":{"size":3.5},"thickness":1.3},"encoding":{"y":{"field":"v","type":"quantitative","scale":{"domain":[0.007,0.0297],"nice":false,"zero":false},"axis":{"title":"Growth rate","values":[0.007,0.012,0.017,0.022,0.027]}},"yError":{"field":"e"}}},
     {"mark":{"type":"circle","opacity":1},"encoding":{"y":{"field":"v","type":"quantitative","scale":{"domain":[0.007,0.0297],"nice":false,"zero":false},"axis":{"title":"Growth rate","values":[0.007,0.012,0.017,0.022,0.027]}},"size":{"field":"k","type":"ordinal","scale":{"domain":["b","r"],"range":[22,44]},"legend":null}}}
    ]},
   {"width":309,"height":104,
    "data":{"name":"p4"},
    "encoding":{"x":{"field":"s","type":"nominal","sort":null,"scale":{"type":"point","padding":0.5},"axis":{"title":null}},
                "color":{"field":"k","type":"nominal","scale":{"domain":["b","r"],"range":["#111111","#e3151a"]},"legend":null}},
    "layer":[
     {"mark":{"type":"rule","strokeDash":[2,2],"strokeWidth":1.3},"encoding":{"color":{"value":"#111111"},"opacity":{"condition":{"test":"datum.s === 'E. coli' && datum.k === 'b'","value":1},"value":0}}},
     {"mark":{"type":"errorbar","ticks":{"size":3.5},"thickness":1.3},"encoding":{"y":{"field":"v","type":"quantitative","scale":{"domain":[0.007,0.0232],"nice":false,"zero":false},"axis":{"title":null,"values":[0.007,0.009,0.011,0.013,0.015,0.017,0.019,0.021,0.023]}},"yError":{"field":"e"}}},
     {"mark":{"type":"circle","opacity":1},"encoding":{"y":{"field":"v","type":"quantitative","scale":{"domain":[0.007,0.0232],"nice":false,"zero":false},"axis":{"title":null,"values":[0.007,0.009,0.011,0.013,0.015,0.017,0.019,0.021,0.023]}},"size":{"field":"k","type":"ordinal","scale":{"domain":["b","r"],"range":[22,44]},"legend":null}}}
    ]}
  ]}
 ]},
 {"spacing":2,"hconcat":[
  {"width":34,"height":104,"data":{"values":[{"t":"42°C"}]},"mark":{"type":"text","fontSize":15,"fontWeight":"bold","color":"#000","dy":-7},"encoding":{"x":{"field":"t","type":"nominal","axis":null},"y":{"field":"t","type":"nominal","axis":null},"text":{"field":"t","type":"nominal"}}},
  {"spacing":22,
  "hconcat":[
   {"width":303,"height":104,
    "data":{"name":"p5"},
    "encoding":{"x":{"field":"s","type":"nominal","sort":null,"scale":{"type":"point","padding":0.5},"axis":{"title":"Homologous DHFR strains"}},
                "color":{"field":"k","type":"nominal","scale":{"domain":["b","r"],"range":["#111111","#e3151a"]},"legend":null}},
    "layer":[
     {"mark":{"type":"rule","strokeDash":[2,2],"strokeWidth":1.3},"encoding":{"color":{"value":"#111111"},"opacity":{"condition":{"test":"datum.s === 'E. coli' && datum.k === 'b'","value":1},"value":0}}},
     {"mark":{"type":"errorbar","ticks":{"size":3.5},"thickness":1.3},"encoding":{"y":{"field":"v","type":"quantitative","scale":{"domain":[0.003,0.0285],"nice":false,"zero":false},"axis":{"title":"Growth rate","values":[0.003,0.008,0.013,0.018,0.023,0.028]}},"yError":{"field":"e"}}},
     {"mark":{"type":"circle","opacity":1},"encoding":{"y":{"field":"v","type":"quantitative","scale":{"domain":[0.003,0.0285],"nice":false,"zero":false},"axis":{"title":"Growth rate","values":[0.003,0.008,0.013,0.018,0.023,0.028]}},"size":{"field":"k","type":"ordinal","scale":{"domain":["b","r"],"range":[22,44]},"legend":null}}}
    ]},
   {"width":309,"height":104,
    "data":{"name":"p6"},
    "encoding":{"x":{"field":"s","type":"nominal","sort":null,"scale":{"type":"point","padding":0.5},"axis":{"title":"Homologous DHFR strains"}},
                "color":{"field":"k","type":"nominal","scale":{"domain":["b","r"],"range":["#111111","#e3151a"]},"legend":null}},
    "layer":[
     {"mark":{"type":"rule","strokeDash":[2,2],"strokeWidth":1.3},"encoding":{"color":{"value":"#111111"},"opacity":{"condition":{"test":"datum.s === 'E. coli' && datum.k === 'b'","value":1},"value":0}}},
     {"mark":{"type":"errorbar","ticks":{"size":3.5},"thickness":1.3},"encoding":{"y":{"field":"v","type":"quantitative","scale":{"domain":[0.008,0.0285],"nice":false,"zero":false},"axis":{"title":null,"values":[0.008,0.01,0.012,0.014,0.016,0.018,0.02,0.022,0.024,0.026,0.028]}},"yError":{"field":"e"}}},
     {"mark":{"type":"circle","opacity":1},"encoding":{"y":{"field":"v","type":"quantitative","scale":{"domain":[0.008,0.0285],"nice":false,"zero":false},"axis":{"title":null,"values":[0.008,0.01,0.012,0.014,0.016,0.018,0.02,0.022,0.024,0.026,0.028]}},"size":{"field":"k","type":"ordinal","scale":{"domain":["b","r"],"range":[22,44]},"legend":null}}}
    ]}
  ]}
 ]}
 ]}
]},
{"spacing":5,
 "hconcat":[
  {"width":45,"height":10,"data":{"values":[]},"mark":"point"},
  {"title":{"text":"B","anchor":"start","frame":"bounds","fontSize":17,"offset":0},
   "vconcat":[{
    "width":157,"height":131,
    "title":{"text":"R = 0.6","subtitle":"P - value = 3.2x10⁻⁵","anchor":"start","frame":"group","fontSize":9.5,"subtitleFontSize":9.5,"subtitleFontWeight":"bold","subtitleFontStyle":"italic","subtitlePadding":2,"offset":3,"subtitleColor":"#000"},
    "encoding":{"x":{"field":"x","type":"quantitative","scale":{"domain":[-0.002,0.004],"nice":false,"zero":false},"axis":{"title":["Change in growth rate","upon lon deletion, 30°C"],"values":[-0.002,-0.001,0,0.001,0.002,0.003,0.004],"format":"~g","labelOverlap":false,"labelAngle":0,"labelFontSize":7.5,"labelFlush":false,"ticks":true,"tickSize":4,"tickColor":"#000","domainColor":"#000","domainWidth":1.3,"titleFontSize":9.5,"titleLineHeight":17,"titlePadding":2,"labelPadding":2}},
                "y":{"field":"y","type":"quantitative","scale":{"domain":[-0.003,0.006],"nice":false,"zero":false},"axis":{"title":["Change in growth rate","upon GroEL/ES over-expression, 30°C"],"values":[-0.002,0,0.002,0.004,0.006],"format":"~g","labelOverlap":false,"grid":false,"labelFontSize":7.5,"ticks":true,"tickSize":4,"tickColor":"#000","domainColor":"#000","domainWidth":1.3,"titleFontSize":8.5,"titleLineHeight":15,"titlePadding":-6,"labelPadding":3}}},
    "layer":[
     {"data":{"name":"sb"},"mark":{"type":"errorbar","color":"#7d7db8","thickness":1,"ticks":{"size":4}},"encoding":{"yError":{"field":"e"}}},
     {"data":{"name":"sb"},"mark":{"type":"circle","size":45,"color":"#1c2d8f","opacity":1},"encoding":{}},
     {"data":{"name":"lb"},"mark":{"type":"line","color":"#e0251b","strokeDash":[2,2],"strokeWidth":2},"encoding":{}}
    ]}]},
  {"title":{"text":"C","anchor":"start","frame":"bounds","fontSize":17,"offset":0},
   "vconcat":[{
    "width":155,"height":133,
    "title":{"text":"R = 0.75","subtitle":"P - value = 1.2x10⁻⁸","anchor":"start","frame":"group","fontSize":9.5,"subtitleFontSize":9.5,"subtitleFontWeight":"bold","subtitleFontStyle":"italic","subtitlePadding":2,"offset":3,"subtitleColor":"#000"},
    "encoding":{"x":{"field":"x","type":"quantitative","scale":{"domain":[-0.0025,0.015],"nice":false,"zero":false},"axis":{"title":["Change in growth rate","upon lon deletion, 37°C"],"values":[0,0.005,0.01,0.015],"format":"~g","labelOverlap":false,"labelAngle":0,"labelFontSize":7.5,"labelFlush":false,"ticks":true,"tickSize":4,"tickColor":"#000","domainColor":"#000","domainWidth":1.3,"titleFontSize":9.5,"titleLineHeight":17,"titlePadding":2,"labelPadding":2}},
                "y":{"field":"y","type":"quantitative","scale":{"domain":[-0.007,0.008],"nice":false,"zero":false},"axis":{"title":["Change in growth rate","upon GroEL/ES over-expression, 37°C"],"values":[-0.006,-0.004,-0.002,0,0.002,0.004,0.006,0.008],"format":"~g","labelOverlap":false,"grid":false,"labelFontSize":7.5,"ticks":true,"tickSize":4,"tickColor":"#000","domainColor":"#000","domainWidth":1.3,"titleFontSize":8.5,"titleLineHeight":15,"titlePadding":-1,"labelPadding":3}}},
    "layer":[
     {"data":{"name":"sc"},"mark":{"type":"errorbar","color":"#7d7db8","thickness":1,"ticks":{"size":4}},"encoding":{"yError":{"field":"e"}}},
     {"data":{"name":"sc"},"mark":{"type":"circle","size":45,"color":"#1c2d8f","opacity":1},"encoding":{}},
     {"data":{"name":"lc"},"mark":{"type":"line","color":"#e0251b","strokeDash":[2,2],"strokeWidth":2},"encoding":{}}
    ]}]},
  {"title":{"text":"D","anchor":"start","frame":"bounds","fontSize":17,"offset":0},
   "vconcat":[{
    "width":145,"height":131,
    "title":{"text":"R = 0.6","subtitle":"P - value = 1.9x10⁻⁵","anchor":"start","frame":"group","fontSize":9.5,"subtitleFontSize":9.5,"subtitleFontWeight":"bold","subtitleFontStyle":"italic","subtitlePadding":2,"offset":3,"subtitleColor":"#000"},
    "encoding":{"x":{"field":"x","type":"quantitative","scale":{"domain":[-0.01,0.015],"nice":false,"zero":false},"axis":{"title":["Change in growth rate","upon lon deletion, 42°C"],"values":[-0.01,-0.005,0,0.005,0.01,0.015],"format":"~g","labelOverlap":false,"labelAngle":0,"labelFontSize":7.5,"labelFlush":false,"ticks":true,"tickSize":4,"tickColor":"#000","domainColor":"#000","domainWidth":1.3,"titleFontSize":9.5,"titleLineHeight":17,"titlePadding":2,"labelPadding":2}},
                "y":{"field":"y","type":"quantitative","scale":{"domain":[-0.009,0.011],"nice":false,"zero":false},"axis":{"title":["Change in growth rate","upon GroEL/ES over-expression, 42°C"],"values":[-0.005,0,0.005,0.01],"format":"~g","labelOverlap":false,"grid":false,"labelFontSize":7.5,"ticks":true,"tickSize":4,"tickColor":"#000","domainColor":"#000","domainWidth":1.3,"titleFontSize":8.5,"titleLineHeight":15,"titlePadding":-9,"labelPadding":3}}},
    "layer":[
     {"data":{"name":"sd"},"mark":{"type":"errorbar","color":"#7d7db8","thickness":1,"ticks":{"size":4}},"encoding":{"yError":{"field":"e"}}},
     {"data":{"name":"sd"},"mark":{"type":"circle","size":45,"color":"#1c2d8f","opacity":1},"encoding":{}},
     {"data":{"name":"ld"},"mark":{"type":"line","color":"#e0251b","strokeDash":[2,2],"strokeWidth":2},"encoding":{}}
    ]}]}
 ]}
]
}
